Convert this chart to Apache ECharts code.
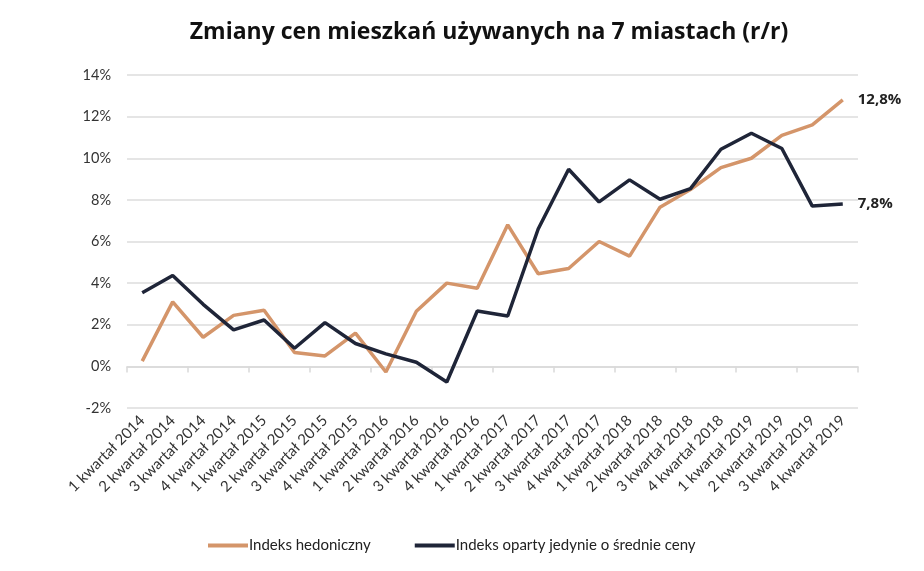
<!DOCTYPE html>
<html>
<head>
<meta charset="utf-8">
<script src="https://cdn.jsdelivr.net/npm/echarts@6/dist/echarts.min.js"></script>
<style>html,body{margin:0;padding:0;background:#fff}#c{width:924px;height:571px}</style>
</head>
<body>
<div id="c"></div>
<script>
const categories = [
  '1 kwartał 2014','2 kwartał 2014','3 kwartał 2014','4 kwartał 2014',
  '1 kwartał 2015','2 kwartał 2015','3 kwartał 2015','4 kwartał 2015',
  '1 kwartał 2016','2 kwartał 2016','3 kwartał 2016','4 kwartał 2016',
  '1 kwartał 2017','2 kwartał 2017','3 kwartał 2017','4 kwartał 2017',
  '1 kwartał 2018','2 kwartał 2018','3 kwartał 2018','4 kwartał 2018',
  '1 kwartał 2019','2 kwartał 2019','3 kwartał 2019','4 kwartał 2019'
];
const hedoniczny = [0.25,3.1,1.4,2.45,2.7,0.67,0.5,1.6,-0.27,2.65,4.0,3.75,6.8,4.45,4.7,6.0,5.3,7.65,8.5,9.55,10.0,11.1,11.6,12.8];
const srednieCeny = [3.54,4.37,2.98,1.75,2.23,0.87,2.1,1.1,0.6,0.2,-0.75,2.66,2.42,6.6,9.47,7.9,8.96,8.03,8.54,10.43,11.2,10.47,7.7,7.8];
const yTicks = {min:-2, max:14, interval:2};
const seriesNames = ['Indeks hedoniczny','Indeks oparty jedynie o średnie ceny'];

const chart = echarts.init(document.getElementById('c'), null, {renderer:'canvas'});
const lblFont = 'Lato, "Open Sans", sans-serif';
const endLabel = {
  show:true, distance:15, fontSize:15, fontWeight:'bold', color:'#222',
  fontFamily:'"Open Sans", sans-serif',
  formatter: p => String(p.value).replace('.', ',') + '%'
};
chart.setOption({
  animation:false,
  title:{
    text:'Zmiany cen mieszkań używanych na 7 miastach (r/r)',
    left:484, textAlign:'center', top:16,
    textStyle:{fontSize:23, fontWeight:'bold', color:'#111', fontFamily:'"Open Sans", sans-serif'}
  },
  legend:{
    bottom:13, left:203, itemGap:44, itemWidth:40, itemHeight:4, icon:'rect',
    textStyle:{fontSize:15, color:'#222', fontFamily:lblFont, padding:[0,0,0,-4]},
    data:seriesNames
  },
  grid:{left:127, right:66, top:75, bottom:163, containLabel:false},
  xAxis:[
    {
      type:'category', data:categories, boundaryGap:true,
      axisLine:{onZero:true, lineStyle:{color:'#d9d9d9', width:1.5}},
      axisTick:{show:true, interval:1, length:6, lineStyle:{color:'#d9d9d9', width:1.5}},
      axisLabel:{show:false}
    },
    {
      type:'category', data:categories, boundaryGap:true, position:'bottom',
      axisLine:{show:false, onZero:false}, axisTick:{show:false},
      axisLabel:{interval:0, rotate:45, fontSize:15, color:'#333', fontFamily:lblFont, margin:10}
    }
  ],
  yAxis:{
    type:'value', min:yTicks.min, max:yTicks.max, interval:yTicks.interval,
    axisLine:{show:false}, axisTick:{show:false},
    splitLine:{lineStyle:{color:'#dcdcdc', width:1.5}},
    axisLabel:{formatter:'{value}%', fontSize:14.5, color:'#333', fontFamily:lblFont, margin:16}
  },
  series:[
    {
      name:seriesNames[0], type:'line', data:hedoniczny, showSymbol:false, symbol:'none',
      lineStyle:{color:'#D4956A', width:3.5}, itemStyle:{color:'#D4956A'},
      endLabel:endLabel
    },
    {
      name:seriesNames[1], type:'line', data:srednieCeny, showSymbol:false, symbol:'none',
      lineStyle:{color:'#1F2538', width:3.5}, itemStyle:{color:'#1F2538'},
      endLabel:endLabel
    }
  ]
});
</script>
</body>
</html>
